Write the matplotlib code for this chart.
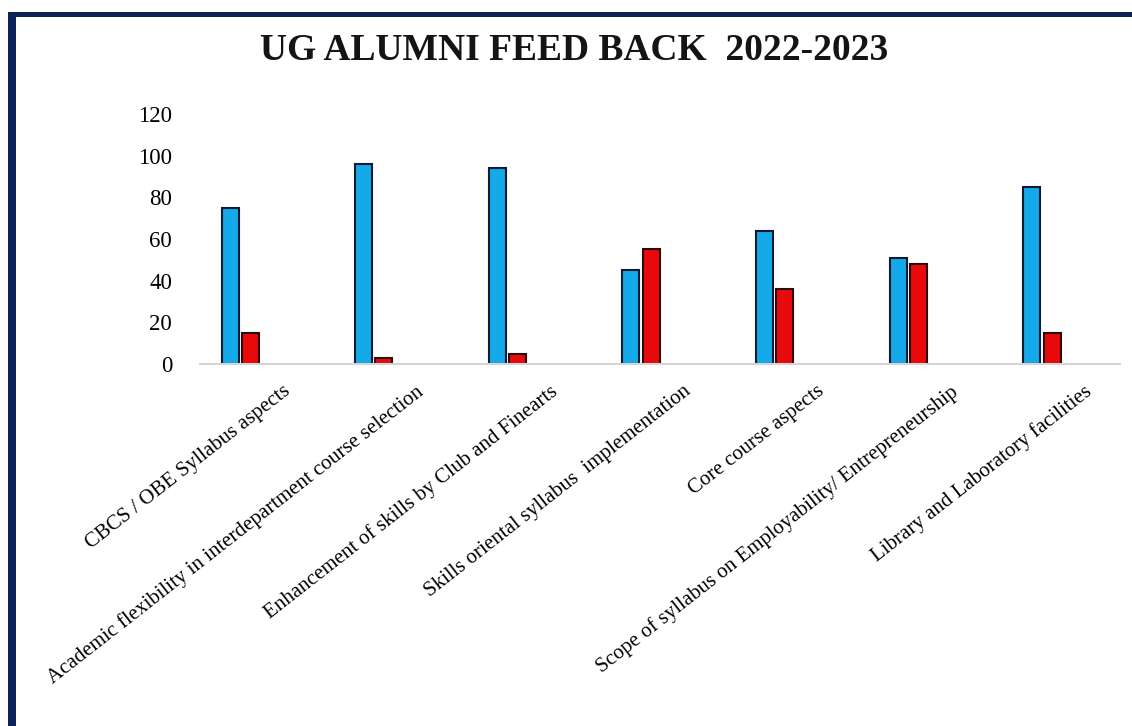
import matplotlib
import numpy as np
import matplotlib.pyplot as plt
from matplotlib.patches import Rectangle
import matplotlib.transforms as mtransforms

matplotlib.use('agg')

# données
categories = [
    "CBCS / OBE Syllabus aspects",
    "Academic flexibility in interdepartment course selection",
    "Enhancement of skills by Club and Finearts",
    "Skills oriental syllabus  implementation",
    "Core course aspects",
    "Scope of syllabus on Employability/ Entrepreneurship",
    "Library and Laboratory facilities",
]
serie_bleue = [75, 96, 94, 45, 64, 51, 85]
serie_rouge = [15, 3, 5, 55, 36, 48, 15]
y_ticks = [0, 20, 40, 60, 80, 100, 120]

plt.rcParams['font.family'] = ['Liberation Serif', 'DejaVu Serif']

fig = plt.figure(figsize=(11.32, 7.26), dpi=100)
fig.patch.set_facecolor('white')

# cadre bleu marine (haut et gauche)
fig.patches.append(Rectangle((0.007, 0.0), 0.007, 0.982, transform=fig.transFigure,
                             facecolor='#0d2257', edgecolor='none'))
fig.patches.append(Rectangle((0.007, 0.976), 0.993, 0.007, transform=fig.transFigure,
                             facecolor='#0d2257', edgecolor='none'))

ax = fig.add_axes([0.1767, 0.4986, 0.8123, 0.3444])
x = np.arange(len(categories))
w = 0.127
ax.bar(x - w / 2 - 0.012, serie_bleue, width=w, color='#14a9e8', edgecolor='#0e1a33', linewidth=1.5)
ax.bar(x + w / 2 + 0.012, serie_rouge, width=w, color='#e80a0a', edgecolor='#2a0a0a', linewidth=1.5)

ax.set_xlim(-0.30, 6.58)
ax.set_ylim(0, 120)
ax.set_yticks(y_ticks)
ax.set_yticklabels([str(v) for v in y_ticks], fontsize=16.5)
ax.tick_params(axis='y', length=0, pad=20)
ax.tick_params(axis='x', length=0, pad=13)

ax.set_xticks(x)
ax.set_xticklabels(categories, rotation=38, ha='right', va='top',
                   rotation_mode='anchor', fontsize=15)
decalage = mtransforms.ScaledTranslation(0.42, 0, fig.dpi_scale_trans)
for lab in ax.get_xticklabels():
    lab.set_transform(lab.get_transform() + decalage)

for s in ['top', 'right', 'left']:
    ax.spines[s].set_visible(False)
ax.spines['bottom'].set_color('#d4d4d4')
ax.spines['bottom'].set_linewidth(1.5)

fig.text(0.507, 0.931, "UG ALUMNI FEED BACK  2022-2023", ha='center', va='center',
         fontsize=27, fontweight='bold', color='#141414')

plt.savefig('out.png', dpi=100)
